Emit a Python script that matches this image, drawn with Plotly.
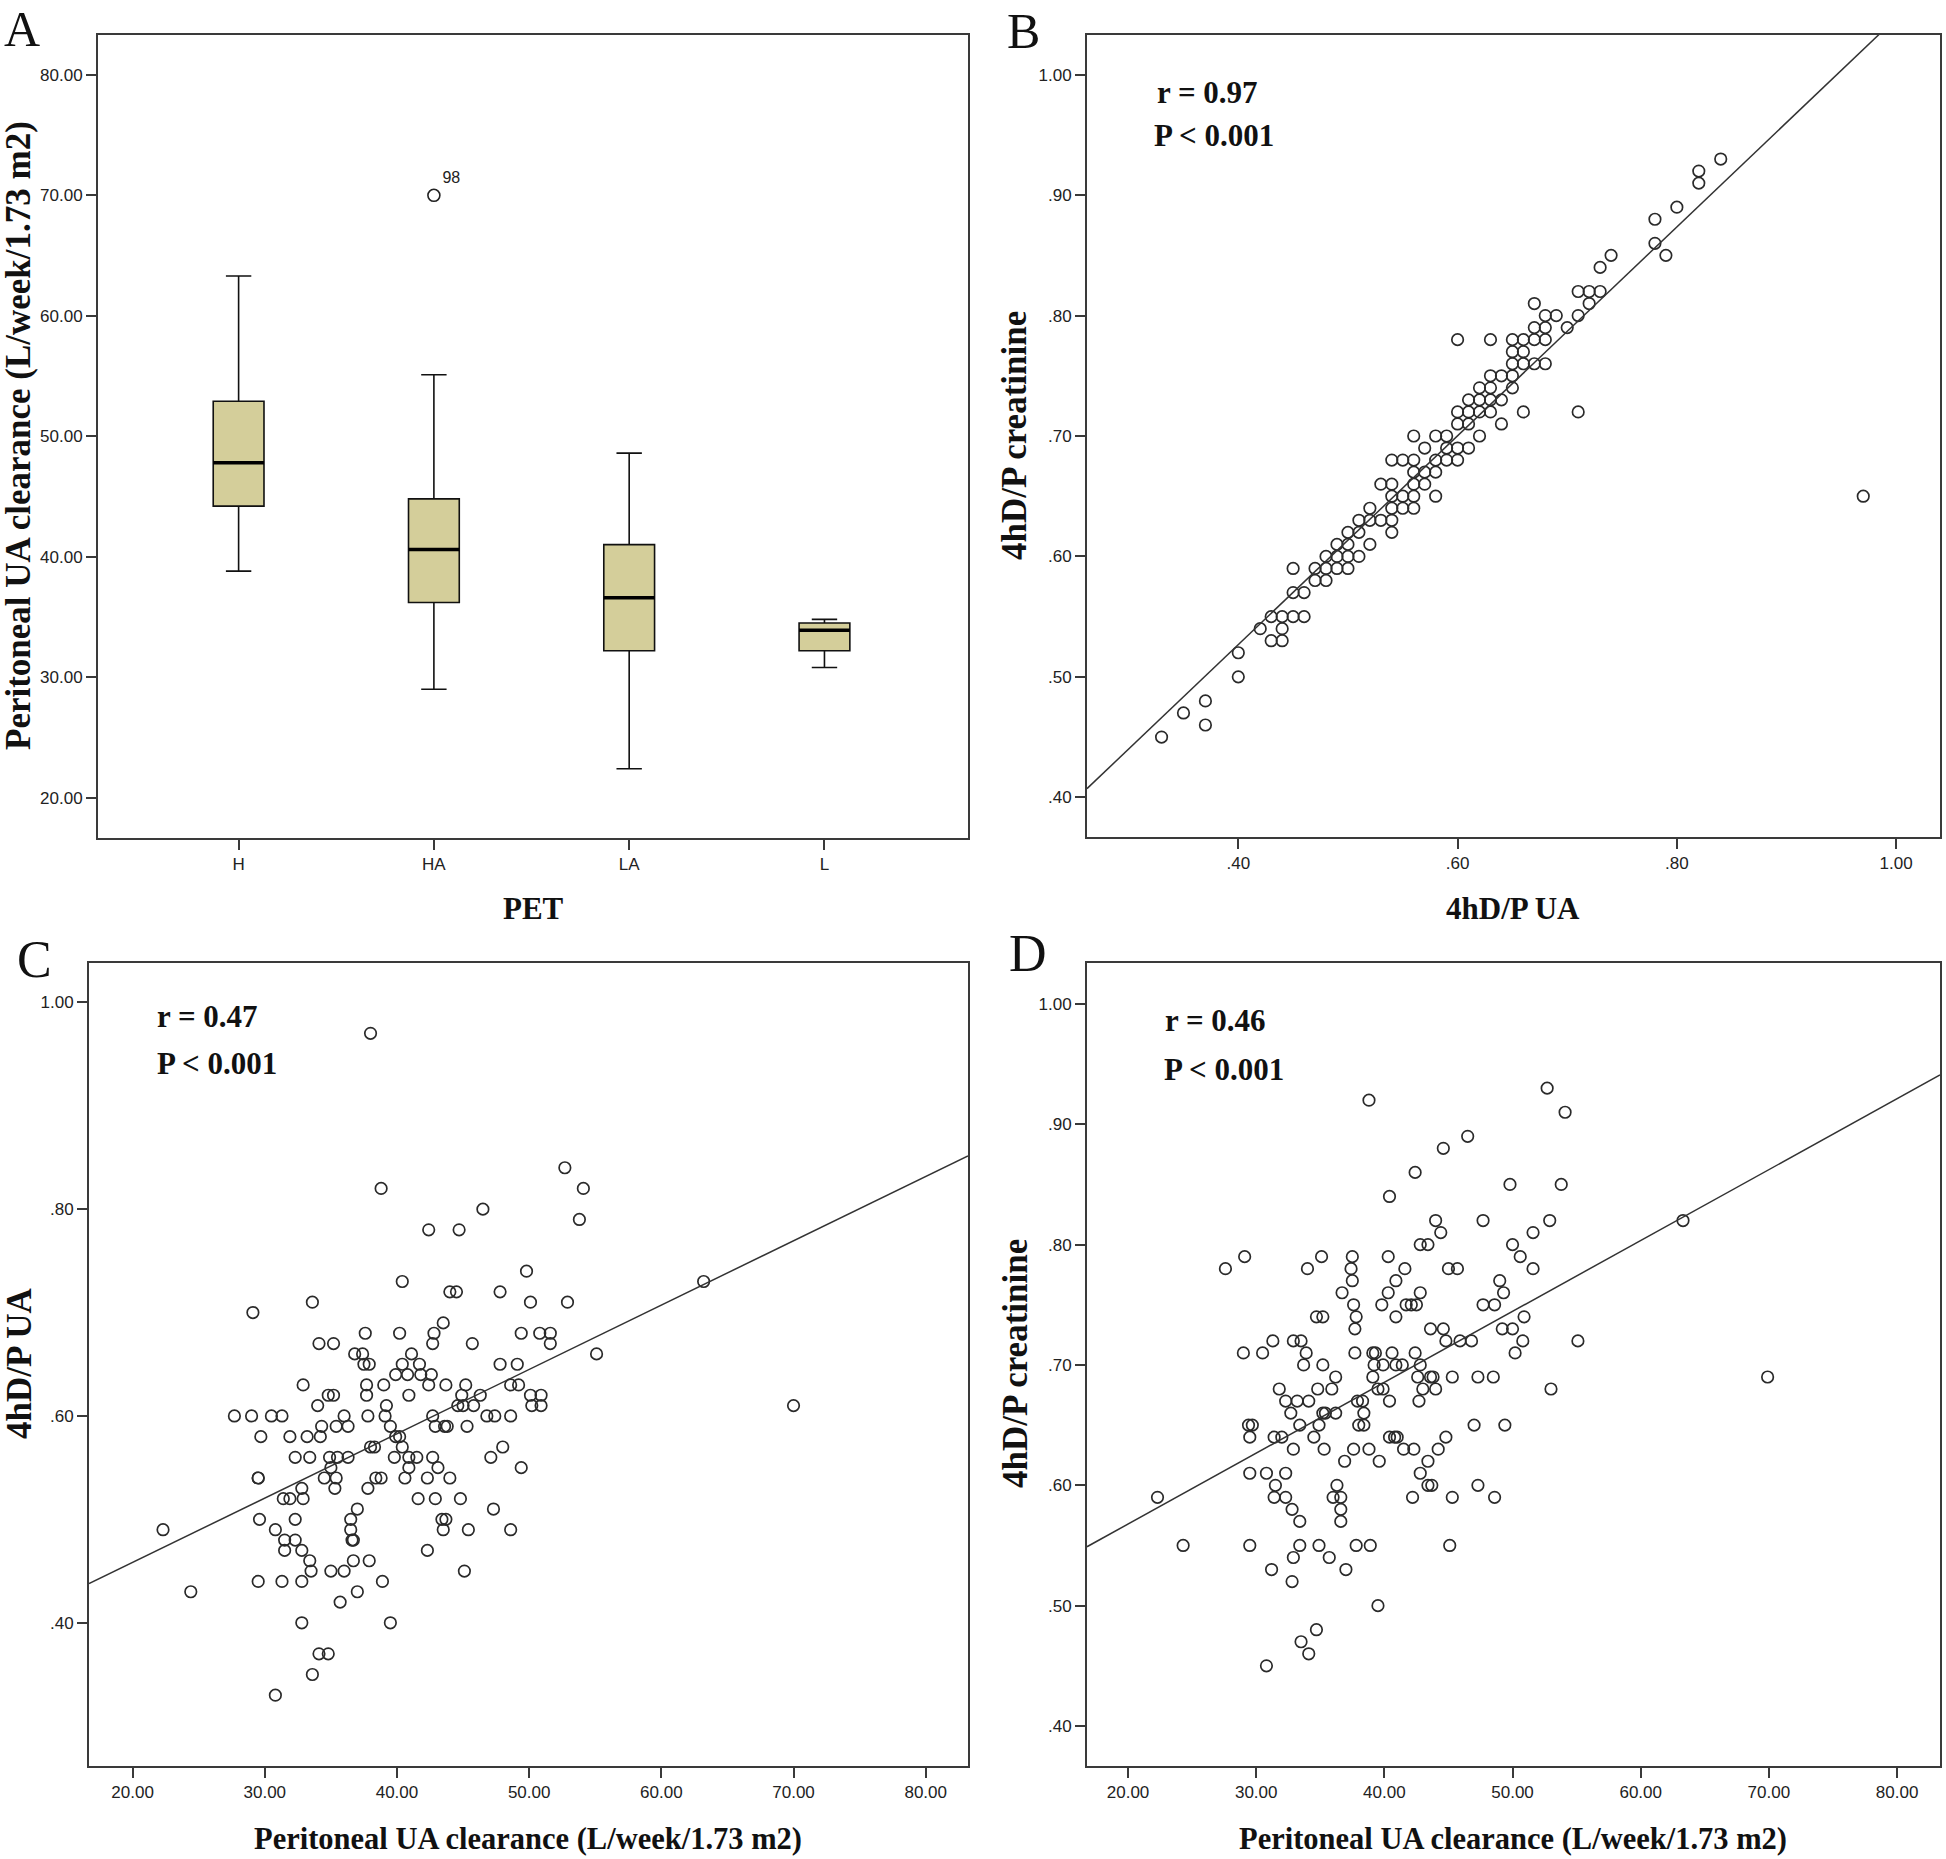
import plotly.graph_objects as go

W, H = 1946, 1859

# ---- Panel A: box statistics
pet_groups = ["H", "HA", "LA", "L"]
box_upper = [63.3, 55.1, 48.6, 34.8]
box_q3 = [52.9, 44.8, 41.0, 34.5]
box_median = [47.8, 40.6, 36.6, 33.9]
box_q1 = [44.2, 36.2, 32.2, 32.2]
box_lower = [38.8, 29.0, 22.4, 30.8]
outlier_group = [1]
outlier_value = [70.0]
outlier_label = ["98"]

# ---- Panel B: 4hD/P UA vs 4hD/P creatinine
b_dp_ua = [0.33, 0.35, 0.37, 0.37, 0.40, 0.40, 0.42, 0.43, 0.43, 0.44, 0.44, 0.44, 0.45, 0.45, 0.45,
           0.46, 0.46, 0.47, 0.47, 0.48, 0.48, 0.48, 0.49, 0.49, 0.49, 0.50, 0.50, 0.50, 0.50, 0.51,
           0.51, 0.51, 0.52, 0.52, 0.52, 0.53, 0.53, 0.54, 0.54, 0.54, 0.54, 0.54, 0.54, 0.55, 0.55,
           0.55, 0.56, 0.56, 0.56, 0.56, 0.56, 0.56, 0.57, 0.57, 0.57, 0.58, 0.58, 0.58, 0.58, 0.59,
           0.59, 0.59, 0.60, 0.60, 0.60, 0.60, 0.60, 0.61, 0.61, 0.61, 0.61, 0.62, 0.62, 0.62, 0.62,
           0.63, 0.63, 0.63, 0.63, 0.63, 0.64, 0.64, 0.64, 0.65, 0.65, 0.65, 0.65, 0.65, 0.66, 0.66,
           0.66, 0.66, 0.67, 0.67, 0.67, 0.67, 0.68, 0.68, 0.68, 0.68, 0.69, 0.70, 0.71, 0.71, 0.71,
           0.72, 0.72, 0.73, 0.73, 0.74, 0.78, 0.78, 0.79, 0.80, 0.82, 0.82, 0.84, 0.97]
b_dp_cr = [0.45, 0.47, 0.48, 0.46, 0.52, 0.50, 0.54, 0.55, 0.53, 0.55, 0.54, 0.53, 0.55, 0.57, 0.59,
           0.55, 0.57, 0.59, 0.58, 0.60, 0.59, 0.58, 0.61, 0.60, 0.59, 0.62, 0.61, 0.60, 0.59, 0.63,
           0.62, 0.60, 0.64, 0.63, 0.61, 0.66, 0.63, 0.68, 0.66, 0.65, 0.64, 0.63, 0.62, 0.68, 0.65,
           0.64, 0.70, 0.68, 0.67, 0.66, 0.65, 0.64, 0.69, 0.67, 0.66, 0.70, 0.68, 0.67, 0.65, 0.70,
           0.69, 0.68, 0.78, 0.72, 0.71, 0.69, 0.68, 0.73, 0.72, 0.71, 0.69, 0.74, 0.73, 0.72, 0.70,
           0.78, 0.75, 0.74, 0.73, 0.72, 0.75, 0.73, 0.71, 0.78, 0.77, 0.76, 0.75, 0.74, 0.78, 0.77,
           0.76, 0.72, 0.81, 0.79, 0.78, 0.76, 0.80, 0.79, 0.78, 0.76, 0.80, 0.79, 0.82, 0.80, 0.72,
           0.82, 0.81, 0.84, 0.82, 0.85, 0.88, 0.86, 0.85, 0.89, 0.92, 0.91, 0.93, 0.65]
b_fit = (0.180, 0.867)  # intercept, slope of the drawn fit line

# ---- Panel C: clearance vs 4hD/P UA
c_clear = [38.0, 52.7, 54.1, 38.8, 46.5, 53.8, 42.4, 44.7, 49.8, 63.2, 40.4, 44.0, 44.5, 47.8, 33.6,
           50.1, 52.9, 29.1, 43.5, 37.6, 40.2, 42.8, 49.4, 50.8, 51.6, 34.1, 35.2, 42.7, 45.7, 51.6,
           36.8, 37.4, 41.1, 55.1, 37.5, 37.9, 40.4, 41.7, 47.8, 49.1, 39.9, 40.8, 41.8, 42.6, 32.9,
           37.7, 39.0, 42.4, 43.7, 45.2, 48.6, 49.2, 34.8, 35.2, 37.7, 40.9, 44.9, 46.3, 50.1, 50.9,
           34.0, 39.2, 44.6, 45.0, 45.8, 50.2, 50.9, 70.0, 27.7, 29.0, 30.5, 31.3, 36.0, 37.8, 39.1,
           42.7, 46.8, 47.4, 48.6, 34.3, 35.4, 36.3, 39.5, 42.9, 43.6, 43.8, 45.3, 29.7, 31.9, 33.2,
           34.2, 39.9, 40.2, 38.0, 38.3, 40.4, 48.0, 32.3, 33.4, 34.9, 35.5, 36.3, 39.8, 40.9, 41.5,
           42.7, 47.1, 35.0, 40.9, 43.1, 49.4, 29.5, 29.5, 34.5, 35.4, 38.4, 38.8, 40.6, 42.3, 44.0,
           32.8, 35.3, 37.8, 31.4, 31.9, 32.9, 41.6, 42.9, 44.8, 37.0, 47.3, 29.6, 32.3, 36.5, 43.4,
           43.7, 22.3, 30.8, 36.5, 43.5, 45.4, 48.6, 31.5, 32.3, 36.6, 36.7, 31.5, 32.8, 42.3, 33.4,
           36.7, 37.9, 33.5, 35.0, 36.0, 45.1, 29.5, 31.3, 32.8, 38.9, 24.4, 37.0, 35.7, 32.8, 39.5,
           34.1, 34.8, 33.6, 30.8]
c_dp_ua = [0.97, 0.84, 0.82, 0.82, 0.80, 0.79, 0.78, 0.78, 0.74, 0.73, 0.73, 0.72, 0.72, 0.72, 0.71,
           0.71, 0.71, 0.70, 0.69, 0.68, 0.68, 0.68, 0.68, 0.68, 0.68, 0.67, 0.67, 0.67, 0.67, 0.67,
           0.66, 0.66, 0.66, 0.66, 0.65, 0.65, 0.65, 0.65, 0.65, 0.65, 0.64, 0.64, 0.64, 0.64, 0.63,
           0.63, 0.63, 0.63, 0.63, 0.63, 0.63, 0.63, 0.62, 0.62, 0.62, 0.62, 0.62, 0.62, 0.62, 0.62,
           0.61, 0.61, 0.61, 0.61, 0.61, 0.61, 0.61, 0.61, 0.60, 0.60, 0.60, 0.60, 0.60, 0.60, 0.60,
           0.60, 0.60, 0.60, 0.60, 0.59, 0.59, 0.59, 0.59, 0.59, 0.59, 0.59, 0.59, 0.58, 0.58, 0.58,
           0.58, 0.58, 0.58, 0.57, 0.57, 0.57, 0.57, 0.56, 0.56, 0.56, 0.56, 0.56, 0.56, 0.56, 0.56,
           0.56, 0.56, 0.55, 0.55, 0.55, 0.55, 0.54, 0.54, 0.54, 0.54, 0.54, 0.54, 0.54, 0.54, 0.54,
           0.53, 0.53, 0.53, 0.52, 0.52, 0.52, 0.52, 0.52, 0.52, 0.51, 0.51, 0.50, 0.50, 0.50, 0.50,
           0.50, 0.49, 0.49, 0.49, 0.49, 0.49, 0.49, 0.48, 0.48, 0.48, 0.48, 0.47, 0.47, 0.47, 0.46,
           0.46, 0.46, 0.45, 0.45, 0.45, 0.45, 0.44, 0.44, 0.44, 0.44, 0.43, 0.43, 0.42, 0.40, 0.40,
           0.37, 0.37, 0.35, 0.33]
c_fit = (0.334, 0.00622)

# ---- Panel D: clearance vs 4hD/P creatinine
d_clear = [52.7, 38.8, 54.1, 46.5, 44.6, 42.4, 49.8, 53.8, 40.4, 63.3, 47.7, 52.9, 44.0, 44.4, 51.6,
           42.8, 43.4, 50.0, 29.1, 35.1, 37.5, 40.3, 50.6, 27.6, 34.0, 37.4, 41.6, 45.0, 45.7, 51.6,
           37.5, 40.9, 49.0, 36.7, 40.3, 42.8, 49.3, 37.6, 39.8, 41.7, 42.1, 42.5, 47.7, 48.6, 34.7,
           35.2, 37.8, 40.9, 50.9, 37.7, 43.6, 44.6, 49.2, 50.0, 31.3, 32.9, 33.5, 44.8, 45.9, 46.8,
           50.8, 55.1, 29.0, 30.5, 33.9, 37.7, 39.1, 39.3, 40.6, 42.4, 50.2, 33.7, 35.2, 39.2, 39.9,
           40.9, 41.4, 42.8, 36.2, 39.1, 42.6, 43.6, 43.8, 45.3, 47.3, 48.5, 69.9, 31.8, 34.8, 35.9,
           39.5, 39.9, 43.0, 44.0, 53.0, 32.3, 33.2, 34.1, 37.9, 38.3, 40.4, 42.7, 32.7, 35.2, 35.4,
           36.2, 38.4, 29.4, 29.7, 33.4, 34.9, 38.0, 38.4, 47.0, 49.4, 29.5, 31.4, 32.0, 34.5, 40.4,
           40.8, 41.0, 44.8, 32.9, 35.3, 37.6, 38.8, 41.5, 42.3, 44.2, 36.9, 39.6, 43.4, 29.5, 30.8,
           32.3, 42.8, 31.5, 36.3, 43.4, 43.7, 47.3, 22.3, 31.4, 32.3, 36.0, 36.6, 42.2, 45.3, 48.6,
           32.8, 36.6, 33.4, 36.6, 24.3, 29.5, 33.4, 34.9, 37.8, 38.9, 45.1, 32.9, 35.7, 31.2, 37.0,
           32.8, 39.5, 34.7, 33.5, 34.1, 30.8]
d_dp_cr = [0.93, 0.92, 0.91, 0.89, 0.88, 0.86, 0.85, 0.85, 0.84, 0.82, 0.82, 0.82, 0.82, 0.81, 0.81,
           0.80, 0.80, 0.80, 0.79, 0.79, 0.79, 0.79, 0.79, 0.78, 0.78, 0.78, 0.78, 0.78, 0.78, 0.78,
           0.77, 0.77, 0.77, 0.76, 0.76, 0.76, 0.76, 0.75, 0.75, 0.75, 0.75, 0.75, 0.75, 0.75, 0.74,
           0.74, 0.74, 0.74, 0.74, 0.73, 0.73, 0.73, 0.73, 0.73, 0.72, 0.72, 0.72, 0.72, 0.72, 0.72,
           0.72, 0.72, 0.71, 0.71, 0.71, 0.71, 0.71, 0.71, 0.71, 0.71, 0.71, 0.70, 0.70, 0.70, 0.70,
           0.70, 0.70, 0.70, 0.69, 0.69, 0.69, 0.69, 0.69, 0.69, 0.69, 0.69, 0.69, 0.68, 0.68, 0.68,
           0.68, 0.68, 0.68, 0.68, 0.68, 0.67, 0.67, 0.67, 0.67, 0.67, 0.67, 0.67, 0.66, 0.66, 0.66,
           0.66, 0.66, 0.65, 0.65, 0.65, 0.65, 0.65, 0.65, 0.65, 0.65, 0.64, 0.64, 0.64, 0.64, 0.64,
           0.64, 0.64, 0.64, 0.63, 0.63, 0.63, 0.63, 0.63, 0.63, 0.63, 0.62, 0.62, 0.62, 0.61, 0.61,
           0.61, 0.61, 0.60, 0.60, 0.60, 0.60, 0.60, 0.59, 0.59, 0.59, 0.59, 0.59, 0.59, 0.59, 0.59,
           0.58, 0.58, 0.57, 0.57, 0.55, 0.55, 0.55, 0.55, 0.55, 0.55, 0.55, 0.54, 0.54, 0.53, 0.53,
           0.52, 0.50, 0.48, 0.47, 0.46, 0.45]
d_fit = (0.450, 0.00589)

# ---- tick labels
clear_ticks = [20, 30, 40, 50, 60, 70, 80]
clear_ticktext = ["20.00", "30.00", "40.00", "50.00", "60.00", "70.00", "80.00"]
ratio_ticks = [0.4, 0.5, 0.6, 0.7, 0.8, 0.9, 1.0]
ratio_ticktext = [".40", ".50", ".60", ".70", ".80", ".90", "1.00"]
ratio_ticks_wide = [0.4, 0.6, 0.8, 1.0]
ratio_ticktext_wide = [".40", ".60", ".80", "1.00"]

LINE = "#3a3a3a"
BOX_FILL = "#d4ce9a"
BOX_W = 0.26
SERIF = "Liberation Serif"
SANS = "Liberation Sans"


def px(x):
    return x / W


def py(y):
    return 1 - y / H


def axis(dom, rng, tickvals, ticktext, anchor):
    return dict(domain=dom, range=rng, tickvals=tickvals, ticktext=ticktext, anchor=anchor,
                showline=True, mirror=True, linecolor=LINE, linewidth=2,
                ticks="outside", ticklen=10, tickwidth=2, tickcolor=LINE,
                showgrid=False, zeroline=False,
                tickfont=dict(family=SANS, size=17, color="#222"))


fig = go.Figure()

# Panel A boxes
for i, g in enumerate(pet_groups):
    fig.add_trace(go.Box(x=[i], q1=[box_q1[i]], median=[box_median[i]], q3=[box_q3[i]],
                         lowerfence=[box_lower[i]], upperfence=[box_upper[i]],
                         width=BOX_W, whiskerwidth=0.5, fillcolor=BOX_FILL,
                         line=dict(color="#111", width=1.6), boxpoints=False,
                         showlegend=False, xaxis="x", yaxis="y"))
    fig.add_trace(go.Scatter(x=[i - BOX_W / 2, i + BOX_W / 2], y=[box_median[i], box_median[i]],
                             mode="lines", line=dict(color="#000", width=3.5),
                             showlegend=False, xaxis="x", yaxis="y"))
fig.add_trace(go.Scatter(x=outlier_group, y=outlier_value, mode="markers+text",
                         text=outlier_label, textposition="top right",
                         textfont=dict(family=SANS, size=16, color="#222"),
                         marker=dict(symbol="circle-open", size=12, color="#222", line=dict(width=1.6)),
                         showlegend=False, xaxis="x", yaxis="y"))

marker = dict(symbol="circle-open", size=11.5, color="#2a2a2a", line=dict(width=1.7))
ranges = {
    "x2": [0.262, 1.040], "x3": [16.7, 83.2], "x4": [16.8, 83.35],
}


def scatter_panel(xs, ys, fit, xa, ya):
    fig.add_trace(go.Scatter(x=xs, y=ys, mode="markers", marker=marker,
                             showlegend=False, xaxis=xa, yaxis=ya))
    x0, x1 = ranges[xa]
    b0, b1 = fit
    fig.add_trace(go.Scatter(x=[x0, x1], y=[b0 + b1 * x0, b0 + b1 * x1], mode="lines",
                             line=dict(color="#333", width=1.5),
                             showlegend=False, xaxis=xa, yaxis=ya))


scatter_panel(b_dp_ua, b_dp_cr, b_fit, "x2", "y2")
scatter_panel(c_clear, c_dp_ua, c_fit, "x3", "y3")
scatter_panel(d_clear, d_dp_cr, d_fit, "x4", "y4")

fig.update_layout(
    width=W, height=H, margin=dict(l=0, r=0, t=0, b=0),
    paper_bgcolor="white", plot_bgcolor="white",
    xaxis=axis([px(98), px(968)], [-0.72, 3.735], [0, 1, 2, 3], pet_groups, "y"),
    yaxis=axis([py(838), py(34.5)], [16.65, 83.35], clear_ticks, clear_ticktext, "x"),
    xaxis2=axis([px(1087), px(1940)], ranges["x2"], ratio_ticks_wide, ratio_ticktext_wide, "y2"),
    yaxis2=axis([py(837), py(35)], [0.367, 1.033], ratio_ticks, ratio_ticktext, "x2"),
    xaxis3=axis([px(89), px(968)], ranges["x3"], clear_ticks, clear_ticktext, "y3"),
    yaxis3=axis([py(1765.5), py(963)], [0.262, 1.038], [0.4, 0.6, 0.8, 1.0],
                [".40", ".60", ".80", "1.00"], "x3"),
    xaxis4=axis([px(1087), px(1940)], ranges["x4"], clear_ticks, clear_ticktext, "y4"),
    yaxis4=axis([py(1765.7), py(963)], [0.367, 1.034], ratio_ticks, ratio_ticktext, "x4"),
)


def note(text, x, y, size, xanchor="center", angle=0, bold=True):
    fig.add_annotation(text=f"<b>{text}</b>" if bold else text, x=px(x), y=py(y),
                       xref="paper", yref="paper", xanchor=xanchor, yanchor="middle",
                       textangle=angle, showarrow=False,
                       font=dict(family=SERIF, size=size, color="#111"))


# panel letters
note("A", 22, 29, 50, bold=False)
note("B", 1023, 31, 50, bold=False)
note("C", 34, 960, 52, bold=False)
note("D", 1028, 953, 52, bold=False)

# axis titles
clear_title = "Peritoneal UA clearance (L/week/1.73 m2)"
note("PET", 533, 909, 31)
note("4hD/P UA", 1513, 909, 31)
note(clear_title, 528, 1839, 30.5)
note(clear_title, 1513, 1839, 30.5)
note(clear_title, 19, 436, 35, angle=-90)
note("4hD/P creatinine", 1015, 436, 35, angle=-90)
note("4hD/P UA", 19, 1364, 35, angle=-90)
note("4hD/P creatinine", 1015, 1364, 35, angle=-90)

# correlation notes
note("r = 0.97", 1155, 92, 31, xanchor="left")
note("P &lt; 0.001", 1152, 135, 31, xanchor="left")
note("r = 0.47", 155, 1017, 31, xanchor="left")
note("P &lt; 0.001", 155, 1063, 31, xanchor="left")
note("r = 0.46", 1163, 1020, 31, xanchor="left")
note("P &lt; 0.001", 1162, 1069, 31, xanchor="left")

fig.write_html("out.html", config={"displayModeBar": False},
               post_script="document.body.style.margin='0';")
